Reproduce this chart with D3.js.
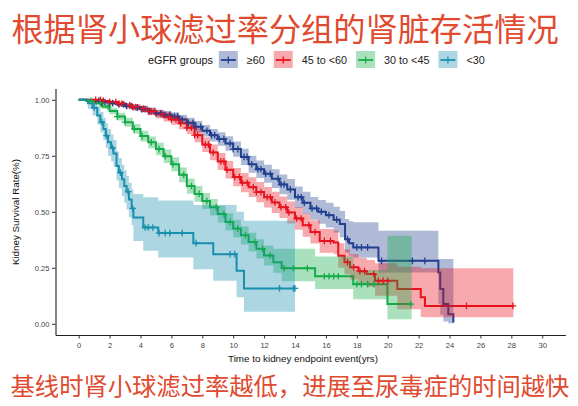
<!DOCTYPE html>
<html>
  <head>
    <meta charset="utf-8">
    <title>eGFR kidney survival</title>
    <script src="https://cdnjs.cloudflare.com/ajax/libs/d3/7.8.5/d3.min.js"></script>
    <style>
      body { margin: 0; background: #fff; }
      svg text { font-family: "Liberation Sans", Arial, sans-serif; }
      svg text.cn { font-family: "Noto Sans CJK SC", sans-serif; }
    </style>
  </head>

  <body>
    <div id="vis"></div>
    <script>
      var groups = ['≥60', '45 to <60', '30 to <45', '<30'];
      var colors = ['#213f8e', '#e8121d', '#14ab49', '#1a8fae'];
      var xTicks = [0, 2, 4, 6, 8, 10, 12, 14, 16, 18, 20, 22, 24, 26, 28, 30];
      var yTicks = [0, 0.25, 0.5, 0.75, 1];
      var yTickLabels = ['0.00', '0.25', '0.50', '0.75', '1.00'];

      // rows: [time, survival, lower, upper]
      var survGe60 = [
        [0, 1, 1, 1], [0.5, 0.998, 0.994, 1], [1, 0.995, 0.989, 1], [1.5, 0.99, 0.983, 0.996],
        [2, 0.985, 0.977, 0.992], [2.5, 0.979, 0.969, 0.988], [3, 0.972, 0.961, 0.983],
        [3.5, 0.965, 0.952, 0.977], [4, 0.958, 0.944, 0.971], [4.5, 0.95, 0.935, 0.965],
        [5, 0.94, 0.923, 0.956], [5.5, 0.933, 0.915, 0.95], [6, 0.925, 0.905, 0.944],
        [6.5, 0.912, 0.891, 0.933], [7, 0.897, 0.874, 0.92], [7.5, 0.88, 0.855, 0.905],
        [8, 0.862, 0.836, 0.888], [8.5, 0.842, 0.814, 0.87], [9, 0.825, 0.795, 0.855],
        [9.5, 0.805, 0.773, 0.837], [10, 0.78, 0.746, 0.814], [10.5, 0.745, 0.709, 0.781],
        [11, 0.712, 0.674, 0.75], [11.5, 0.69, 0.651, 0.729], [12, 0.67, 0.63, 0.71],
        [12.5, 0.648, 0.606, 0.69], [13, 0.622, 0.578, 0.666], [13.5, 0.6, 0.554, 0.646],
        [14, 0.565, 0.517, 0.613], [14.5, 0.54, 0.49, 0.59], [15, 0.515, 0.464, 0.566],
        [15.5, 0.5, 0.447, 0.553], [16, 0.485, 0.43, 0.54], [16.5, 0.465, 0.408, 0.522],
        [16.9, 0.445, 0.386, 0.504], [17.24, 0.378, 0.318, 0.468], [17.5, 0.36, 0.305, 0.458],
        [17.77, 0.341, 0.296, 0.453], [19.4, 0.281, 0.229, 0.415], [23.28, 0.229, 0.09, 0.289],
        [23.4, 0.155, 0.04, 0.289], [23.6, 0.088, 0.01, 0.289], [23.92, 0.043, 0.003, 0.289],
        [24.25, 0.006, 0, 0.289]
      ];
      var surv45 = [
        [0, 1, 1, 1], [1, 1, 0.997, 1], [1.5, 0.995, 0.99, 1], [2, 0.99, 0.983, 0.997],
        [2.5, 0.983, 0.974, 0.992], [3, 0.975, 0.964, 0.986], [3.5, 0.968, 0.955, 0.981],
        [4, 0.96, 0.945, 0.975], [4.5, 0.948, 0.931, 0.965], [5, 0.935, 0.916, 0.954],
        [5.5, 0.924, 0.903, 0.945], [6, 0.912, 0.889, 0.935], [6.5, 0.895, 0.869, 0.921],
        [7, 0.875, 0.847, 0.903], [7.5, 0.842, 0.811, 0.873], [8, 0.8, 0.767, 0.833],
        [8.5, 0.765, 0.73, 0.8], [9, 0.725, 0.688, 0.762], [9.5, 0.688, 0.649, 0.727],
        [10, 0.655, 0.614, 0.696], [10.5, 0.63, 0.587, 0.673], [11, 0.61, 0.566, 0.654],
        [11.5, 0.588, 0.543, 0.633], [12, 0.565, 0.519, 0.611], [12.5, 0.542, 0.495, 0.589],
        [13, 0.52, 0.472, 0.568], [13.5, 0.497, 0.448, 0.546], [14, 0.47, 0.42, 0.52],
        [14.5, 0.44, 0.389, 0.491], [15, 0.41, 0.358, 0.462], [15.6, 0.37, 0.317, 0.423],
        [16.5, 0.363, 0.31, 0.416], [16.8, 0.304, 0.25, 0.36], [17.2, 0.275, 0.221, 0.333],
        [17.56, 0.252, 0.198, 0.31], [18.1, 0.235, 0.18, 0.295], [18.64, 0.222, 0.165, 0.285],
        [19.18, 0.192, 0.125, 0.27], [20.62, 0.155, 0.065, 0.255], [22.14, 0.118, 0.03, 0.248],
        [22.41, 0.08, 0.029, 0.248], [28.13, 0.08, 0.029, 0.248]
      ];
      var surv30 = [
        [0, 1, 1, 1], [0.5, 0.995, 0.99, 1], [1, 0.985, 0.977, 0.993], [1.5, 0.97, 0.959, 0.981],
        [2, 0.95, 0.936, 0.964], [2.5, 0.925, 0.908, 0.942], [3, 0.9, 0.88, 0.92],
        [3.5, 0.87, 0.848, 0.892], [4, 0.838, 0.814, 0.862], [4.5, 0.81, 0.784, 0.836],
        [5, 0.78, 0.752, 0.808], [5.5, 0.748, 0.718, 0.778], [6, 0.712, 0.681, 0.743],
        [6.5, 0.665, 0.632, 0.698], [7, 0.615, 0.581, 0.649], [7.5, 0.58, 0.545, 0.615],
        [8, 0.548, 0.512, 0.584], [8.5, 0.52, 0.483, 0.557], [9, 0.49, 0.452, 0.528],
        [9.5, 0.455, 0.416, 0.494], [10, 0.425, 0.385, 0.465], [10.5, 0.395, 0.354, 0.436],
        [11, 0.365, 0.323, 0.407], [11.5, 0.335, 0.292, 0.378], [12, 0.305, 0.26, 0.35],
        [12.6, 0.275, 0.228, 0.335], [13.14, 0.248, 0.19, 0.335], [15.3, 0.212, 0.155, 0.3],
        [17.77, 0.177, 0.11, 0.24], [19.98, 0.088, 0.02, 0.393], [21.55, 0.088, 0.02, 0.393]
      ];
      var survLt30 = [
        [0, 1, 1, 1], [0.6, 0.985, 0.96, 1], [0.9, 0.965, 0.93, 0.99], [1.2, 0.93, 0.89, 0.97],
        [1.4, 0.9, 0.855, 0.945], [1.6, 0.87, 0.82, 0.92], [1.75, 0.84, 0.785, 0.895],
        [1.9, 0.81, 0.75, 0.87], [2.1, 0.785, 0.725, 0.845], [2.25, 0.76, 0.7, 0.82],
        [2.45, 0.705, 0.64, 0.77], [2.6, 0.675, 0.605, 0.74], [2.8, 0.645, 0.57, 0.71],
        [2.95, 0.615, 0.54, 0.685], [3.1, 0.59, 0.51, 0.66], [3.25, 0.555, 0.475, 0.63],
        [3.43, 0.515, 0.44, 0.6], [3.54, 0.475, 0.37, 0.58], [4.18, 0.43, 0.326, 0.565],
        [5.15, 0.405, 0.296, 0.55], [7.42, 0.36, 0.244, 0.53], [8.71, 0.311, 0.192, 0.53],
        [10.22, 0.237, 0.118, 0.5], [10.7, 0.158, 0.054, 0.46], [14.0, 0.158, 0.054, 0.46]
      ];

      // censored times ("+" marks)
      var censorGe60 = [1.3, 1.5, 1.7, 2.0, 2.2, 2.6, 2.9, 3.1, 3.4, 3.8, 4.1, 4.3, 4.6, 5.0, 5.3,
        5.6, 5.9, 6.2, 6.4, 6.7, 7.1, 7.4, 7.6, 7.9, 8.3, 8.6, 8.8, 9.1, 9.4, 9.8, 10.0, 10.3, 10.7,
        10.9, 11.2, 11.6, 11.8, 12.1, 12.4, 12.9, 13.1, 13.3, 13.7, 14.2, 14.4, 14.6, 15.1, 15.4,
        15.7, 16.2, 16.7, 17.4, 18.0, 18.3, 18.7, 19.6, 21.6, 22.4];
      var censor45 = [1.1, 1.4, 1.6, 2.0, 2.4, 2.6, 2.8, 3.3, 3.5, 3.7, 4.2, 4.5, 4.7, 4.9, 5.4, 5.8,
        6.0, 6.3, 6.6, 7.0, 7.3, 7.5, 7.7, 8.2, 8.4, 8.7, 9.2, 9.4, 9.6, 10.1, 10.4, 10.6, 10.9,
        11.3, 11.5, 11.8, 12.2, 12.4, 12.7, 13.1, 13.4, 13.6, 14.1, 14.4, 14.9, 15.3, 15.9, 16.3,
        17.4, 17.8, 18.2, 18.5, 19.1, 19.4, 19.7, 20.0, 25.1, 28.1];
      var censor30 = [0.8, 1.4, 1.9, 2.5, 3.0, 3.6, 4.1, 4.7, 5.2, 5.6, 6.1, 6.8, 7.3, 7.8, 8.3, 8.9,
        9.4, 9.8, 10.3, 10.8, 11.4, 11.9, 12.4, 13.3, 13.9, 14.8, 15.9, 16.2, 16.5, 16.8, 18.0,
        18.3, 18.7, 19.1, 21.5];
      var censorLt30 = [1.0, 1.5, 1.8, 2.2, 2.7, 3.2, 3.5, 4.3, 4.5, 4.8, 5.2, 5.6, 5.9, 6.7, 7.6,
        9.8, 10.1, 13.0, 13.9, 14.0];

      var curves = [survGe60, surv45, surv30, survLt30];
      var censors = [censorGe60, censor45, censor30, censorLt30];

      //////////////////////////////////////////////////////////

      var W = 578, H = 406;
      var svg = d3.select('#vis').append('svg')
        .attr('width', W).attr('height', H);

      var x = d3.scaleLinear().domain([-1.5, 31.5]).range([55.5, 565.4]);
      var y = d3.scaleLinear().domain([-0.05, 1.05]).range([335, 88.6]);

      svg.append('text').attr('class', 'cn')
        .attr('x', 285).attr('y', 41)
        .attr('text-anchor', 'middle')
        .attr('font-size', 32.2).attr('fill', '#e04a2f')
        .text('根据肾小球滤过率分组的肾脏存活情况');

      svg.append('text').attr('class', 'cn')
        .attr('x', 290).attr('y', 395)
        .attr('text-anchor', 'middle')
        .attr('font-size', 24.3).attr('fill', '#e04a2f')
        .text('基线时肾小球滤过率越低，进展至尿毒症的时间越快');

      // axes
      var xAxis = svg.append('g').attr('transform', 'translate(0,335)')
        .call(d3.axisBottom(x).tickValues(xTicks).tickSize(3.5).tickSizeOuter(0).tickPadding(4));
      var yAxis = svg.append('g').attr('transform', 'translate(55.5,0)')
        .call(d3.axisLeft(y).tickValues(yTicks).tickSize(3.5).tickSizeOuter(0).tickPadding(2.5)
          .tickFormat(function (d, i) { return yTickLabels[i]; }));
      [xAxis, yAxis].forEach(function (g) {
        g.select('.domain').attr('stroke', '#222').attr('stroke-width', 1.1);
        g.selectAll('.tick line').attr('stroke', '#333');
        g.selectAll('.tick text').attr('fill', '#444').attr('font-size', 7.6)
          .attr('font-family', '"Liberation Sans", Arial, sans-serif');
      });

      svg.append('text')
        .attr('x', 303).attr('y', 362)
        .attr('text-anchor', 'middle').attr('font-size', 9.8).attr('fill', '#111')
        .text('Time to kidney endpoint event(yrs)');
      svg.append('text')
        .attr('transform', 'translate(19,212) rotate(-90)')
        .attr('text-anchor', 'middle').attr('font-size', 9.8).attr('fill', '#111')
        .text('Kidney Survival Rate(%)');

      //////////////////////////////////////////////////////////

      var line = d3.line().curve(d3.curveStepAfter)
        .x(function (d) { return x(d[0]); })
        .y(function (d) { return y(d[1]); });
      var band = d3.area().curve(d3.curveStepAfter)
        .x(function (d) { return x(d[0]); })
        .y0(function (d) { return y(d[2]); })
        .y1(function (d) { return y(d[3]); });

      svg.selectAll('path.km').data(curves).enter()
        .append('path').attr('class', 'km')
        .attr('d', line).attr('fill', 'none')
        .attr('stroke', function (d, i) { return colors[i]; })
        .attr('stroke-width', 2);

      svg.selectAll('path.ci').data(curves).enter()
        .append('path').attr('class', 'ci')
        .attr('d', band)
        .attr('fill', function (d, i) { return colors[i]; })
        .attr('fill-opacity', 0.36);

      function survAt(rows, t) {
        var s = rows[0][1];
        rows.forEach(function (r) { if (r[0] <= t) s = r[1]; });
        return s;
      }

      censors.forEach(function (times, i) {
        svg.selectAll('path.cens' + i).data(times).enter()
          .append('path').attr('class', 'cens' + i)
          .attr('transform', function (t) {
            return 'translate(' + x(t) + ',' + y(survAt(curves[i], t)) + ')';
          })
          .attr('d', 'M-3.3,0H3.3M0,-3.3V3.3')
          .attr('stroke', colors[i]).attr('stroke-width', 1.3);
      });

      //////////////////////////////////////////////////////////
      // legend

      var leg = svg.append('g').attr('transform', 'translate(0,60)');
      var lt = leg.append('text').attr('x', 148).attr('y', 4)
        .attr('font-size', 10.8).attr('fill', '#111').text('eGFR groups');
      var lx = 148 + lt.node().getComputedTextLength() + 6;
      groups.forEach(function (g, i) {
        leg.append('rect').attr('x', lx).attr('y', -9).attr('width', 19).attr('height', 17)
          .attr('fill', colors[i]).attr('fill-opacity', 0.36);
        leg.append('path').attr('d', 'M' + (lx + 2) + ',0H' + (lx + 17))
          .attr('stroke', colors[i]).attr('stroke-width', 1.8);
        leg.append('path').attr('d', 'M' + (lx + 9.5) + ',-3.5V3.5')
          .attr('stroke', colors[i]).attr('stroke-width', 1.3);
        var t = leg.append('text').attr('x', lx + 28).attr('y', 4)
          .attr('font-size', 10.8).attr('fill', '#222').text(g);
        lx = lx + 28 + t.node().getComputedTextLength() + 9;
      });
    </script>
  </body>
</html>
